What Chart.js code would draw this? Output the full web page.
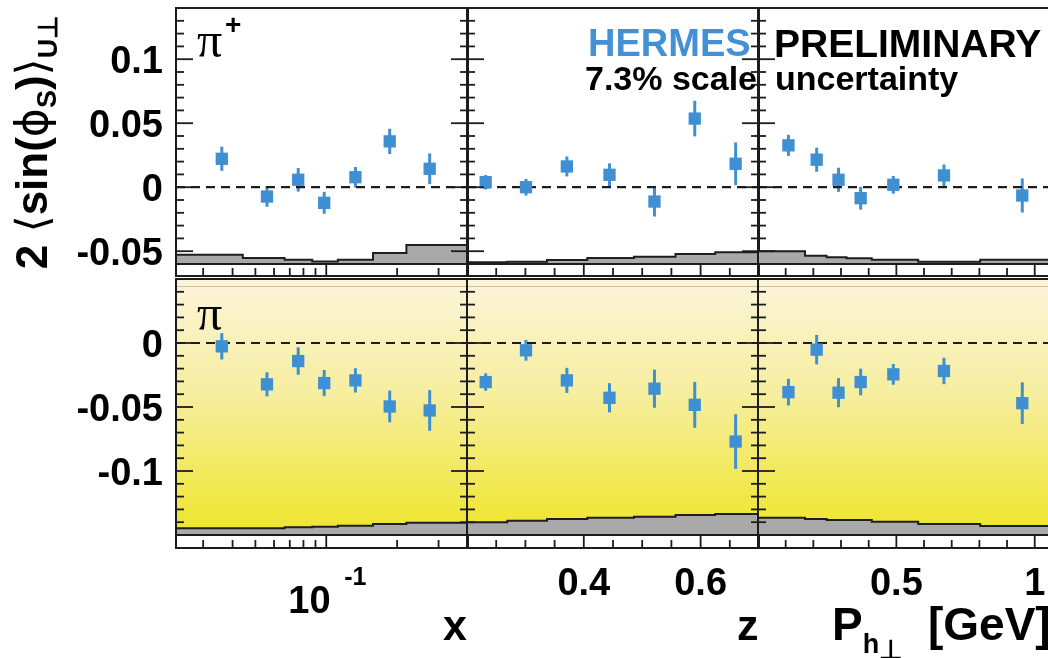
<!DOCTYPE html>
<html>
<head>
<meta charset="utf-8">
<title>HERMES sin(phi_S) amplitudes</title>
<script src="https://cdn.jsdelivr.net/npm/chart.js@4.4.1/dist/chart.umd.min.js"></script>
<style>
  html, body { margin: 0; padding: 0; background: #fff; }
  body { width: 1048px; height: 658px; overflow: hidden; position: relative; font-family: "Liberation Sans", Arial, sans-serif; }
  canvas { position: absolute; }
  .t { position: absolute; white-space: nowrap; font-weight: bold; line-height: 1; color: #000; }
  .sym { font-family: "DejaVu Sans", sans-serif; font-weight: normal; }
</style>
</head>
<body>
<div id="charts"></div>

<div class="t" id="yTitle" style="left:-118px; top:120px; width:300px; text-align:center; font-size:44px; transform:rotate(-90deg);">2 <span class="sym">&#10216;</span>sin(<span class="sym">&#981;</span><span style="font-size:27px; position:relative; top:9px;">S</span>)<span class="sym">&#10217;</span><span style="font-size:27px; position:relative; top:10px;">U&#8869;</span></div>

<div class="t" style="left:197px; top:15px; font-family:'Liberation Serif', serif; font-weight:normal; font-size:50px;">&pi;</div>
<div class="t" style="left:225px; top:11px; font-size:28px;">+</div>
<div class="t" style="left:197px; top:288px; font-family:'Liberation Serif', serif; font-weight:normal; font-size:50px;">&pi;</div>

<div class="t" style="left:588px; top:24px; font-size:38px; color:#4390d5;">HERMES</div>
<div class="t" style="left:585px; top:61px; font-size:34px;">7.3% scale</div>
<div class="t" style="left:774px; top:24px; font-size:39px;">PRELIMINARY</div>
<div class="t" style="left:775px; top:61px; font-size:34px;">uncertainty</div>

<div class="t" style="left:443px; top:604px; font-size:43px;">x</div>
<div class="t" style="left:737px; top:604px; font-size:43px;">z</div>
<div class="t" style="left:832px; top:601px; font-size:46px;">P<span style="font-size:27px; position:relative; top:13px; margin-right:12px;">h<span style="position:relative; top:6px;">&#8869;</span></span> [GeV]</div>

<script>
// bin mean values (x log, z and Ph linear)
const xMean = [0.036, 0.056, 0.076, 0.098, 0.133, 0.186, 0.275];
const zMean = [0.232, 0.301, 0.371, 0.444, 0.521, 0.590, 0.660];
const phMean = [0.110, 0.212, 0.291, 0.371, 0.489, 0.672, 0.955];

// bin edges of the systematic band histograms
const xEdges = [0.023, 0.0442, 0.0665, 0.0872, 0.112, 0.158, 0.219, 0.4];
const zEdges = [0.2, 0.269, 0.337, 0.406, 0.486, 0.557, 0.625, 0.7];
const phEdges = [0, 0.17, 0.248, 0.32, 0.411, 0.579, 0.803, 1.12];

// pi+ amplitudes
const piPlusX = [0.0222, -0.0073, 0.0058, -0.0122, 0.0078, 0.0358, 0.0144];
const piPlusXErr = [0.0094, 0.0080, 0.0092, 0.0086, 0.0080, 0.0099, 0.0120];
const piPlusXSys = [0.0073, 0.0047, 0.0034, 0.0020, 0.0034, 0.0086, 0.0148];
const piPlusZ = [0.0039, 0.0000, 0.0162, 0.0097, -0.0112, 0.0536, 0.0183];
const piPlusZErr = [0.0056, 0.0065, 0.0078, 0.0089, 0.0117, 0.0139, 0.0167];
const piPlusZSys = [0.0013, 0.0018, 0.0031, 0.0047, 0.0057, 0.0078, 0.0091];
const piPlusPh = [0.0327, 0.0215, 0.0058, -0.0086, 0.0019, 0.0092, -0.0065];
const piPlusPhErr = [0.0082, 0.0094, 0.0094, 0.0089, 0.0069, 0.0085, 0.0133];
const piPlusPhSys = [0.0099, 0.0065, 0.0052, 0.0044, 0.0034, 0.0018, 0.0034];

// pi- amplitudes
const piMinusX = [-0.0026, -0.0323, -0.0141, -0.0313, -0.0292, -0.0496, -0.0527];
const piMinusXErr = [0.0103, 0.0094, 0.0107, 0.0102, 0.0095, 0.0124, 0.0159];
const piMinusXSys = [0.0052, 0.0052, 0.0060, 0.0065, 0.0073, 0.0086, 0.0096];
const piMinusZ = [-0.0305, -0.0057, -0.0292, -0.0428, -0.0357, -0.0483, -0.0770];
const piMinusZErr = [0.0068, 0.0081, 0.0098, 0.0114, 0.0149, 0.0179, 0.0213];
const piMinusZSys = [0.0099, 0.0112, 0.0125, 0.0135, 0.0143, 0.0156, 0.0164];
const piMinusPh = [-0.0384, -0.0052, -0.0388, -0.0305, -0.0245, -0.0219, -0.0470];
const piMinusPhErr = [0.0104, 0.0115, 0.0114, 0.0104, 0.0081, 0.0103, 0.0163];
const piMinusPhSys = [0.0135, 0.0125, 0.0117, 0.0117, 0.0104, 0.0086, 0.0070];

// tick labels
const yTicksTop = [0.1, 0.05, 0, -0.05];
const yTicksBottom = [0, -0.05, -0.1];
const xLabels = [0.1];
const zLabels = [0.4, 0.6];
const phLabels = [0.5, 1];
const xMinorTicks = [0.03, 0.04, 0.05, 0.06, 0.07, 0.08, 0.09, 0.2, 0.3];
const zMinorTicks = [0.25, 0.3, 0.35, 0.45, 0.5, 0.55, 0.65];
const phMinorTicks = [0.1, 0.2, 0.3, 0.4, 0.6, 0.7, 0.8, 0.9, 1.1];

const BLUE = '#3f8fd3';
const FONT = '"Liberation Sans", Arial, sans-serif';

function fmt(v) {
  return String(Math.round(v * 1000) / 1000);
}

// frame, ticks, error bars, background
const deco = {
  id: 'deco',
  beforeDraw(chart, args, o) {
    if (!o.yellow) return;
    const { ctx, chartArea: a } = chart;
    const g = ctx.createLinearGradient(0, a.top, 0, a.bottom);
    g.addColorStop(0, '#fcf4da');
    g.addColorStop(0.45, '#f6ee9e');
    g.addColorStop(1, '#efe52b');
    ctx.save();
    ctx.fillStyle = g;
    ctx.fillRect(a.left, a.top, a.right - a.left, a.bottom - a.top);
    ctx.strokeStyle = '#d4c392';
    ctx.lineWidth = 1;
    ctx.beginPath();
    ctx.moveTo(a.left, a.top + 7.5);
    ctx.lineTo(a.right, a.top + 7.5);
    ctx.stroke();
    ctx.restore();
  },
  beforeDatasetsDraw(chart) {
    const { ctx } = chart;
    const ys = chart.scales.y;
    chart.data.datasets.forEach((ds, i) => {
      if (!ds.errors) return;
      const meta = chart.getDatasetMeta(i);
      ctx.save();
      ctx.strokeStyle = ds.backgroundColor;
      ctx.lineWidth = 3;
      meta.data.forEach((pt, j) => {
        const v = ds.data[j].y, e = ds.errors[j];
        ctx.beginPath();
        ctx.moveTo(pt.x, ys.getPixelForValue(v + e));
        ctx.lineTo(pt.x, ys.getPixelForValue(v - e));
        ctx.stroke();
      });
      ctx.restore();
    });
  },
  afterDraw(chart, args, o) {
    const { ctx, chartArea: a } = chart;
    const xs = chart.scales.x, ys = chart.scales.y;
    const seg = (x1, y1, x2, y2) => { ctx.beginPath(); ctx.moveTo(x1, y1); ctx.lineTo(x2, y2); ctx.stroke(); };
    ctx.save();
    ctx.strokeStyle = '#1c1c1c';
    ctx.lineWidth = 1.8;
    // y ticks both sides, pointing in
    for (let k = Math.ceil(ys.min * 100 - 1e-6); k <= Math.floor(ys.max * 100 + 1e-6); k++) {
      const py = ys.getPixelForValue(k / 100);
      const len = k % 5 === 0 ? 17 : 8;
      seg(a.left, py, a.left + len, py);
      seg(a.right, py, a.right - len, py);
    }
    // x ticks live in a thin strip under the pad
    const sb = a.bottom + o.strip;
    o.minor.forEach(v => { const px = xs.getPixelForValue(v); seg(px, sb, px, sb - 8); });
    o.major.forEach(v => { const px = xs.getPixelForValue(v); seg(px, sb, px, a.bottom); });
    ctx.lineWidth = 2;
    ctx.strokeRect(a.left, a.top, a.right - a.left, a.bottom - a.top);
    ctx.strokeRect(a.left, a.bottom, a.right - a.left, o.strip);

    ctx.fillStyle = '#000';
    ctx.textBaseline = 'alphabetic';
    if (o.yLabels) {
      ctx.font = 'bold 38px ' + FONT;
      ctx.textAlign = 'right';
      o.yLabels.forEach(v => ctx.fillText(fmt(v), a.left - 13, ys.getPixelForValue(v) + 13.6));
    }
    if (o.xLabels) {
      o.xLabels.forEach(v => {
        const px = xs.getPixelForValue(v);
        if (o.pow) {
          ctx.textAlign = 'left';
          ctx.font = 'bold 38px ' + FONT;
          ctx.fillText('10', px - 38, sb + 65);
          ctx.font = 'bold 25px ' + FONT;
          ctx.fillText(String(Math.round(Math.log10(v))), px + 18, sb + 37);
        } else {
          ctx.textAlign = 'center';
          ctx.font = 'bold 38px ' + FONT;
          ctx.fillText(fmt(v), px, sb + 47);
        }
      });
    }
    ctx.restore();
  }
};

function addPanel(p) {
  const c = document.createElement('canvas');
  const w = p.area[2] - p.area[0] + p.pad.left + p.pad.right;
  const h = p.area[3] - p.area[1] + p.pad.top + p.pad.bottom;
  c.width = w;
  c.height = h;
  c.style.left = (p.area[0] - p.pad.left) + 'px';
  c.style.top = (p.area[1] - p.pad.top) + 'px';
  c.style.width = w + 'px';
  c.style.height = h + 'px';
  document.getElementById('charts').appendChild(c);

  const [xMin, xMax] = p.xRange, [yMin, yMax] = p.yRange;
  const band = p.edges.map((e, i) => ({ x: Math.min(e, xMax), y: yMin + p.sys[Math.min(i, p.sys.length - 1)] }));
  const pts = p.xs.map((x, i) => ({ x: x, y: p.vals[i] }));

  new Chart(c, {
    type: 'scatter',
    data: {
      datasets: [
        { data: pts, errors: p.errs, order: 0, backgroundColor: BLUE, pointStyle: 'rect', pointRadius: 8.7, pointBorderWidth: 0 },
        { data: [{ x: xMin, y: 0 }, { x: xMax, y: 0 }], order: 1, showLine: true, borderColor: '#1c1c1c', borderWidth: 2.2, borderDash: [9, 6], pointRadius: 0 },
        { data: band, order: 2, showLine: true, stepped: true, fill: 'start', backgroundColor: '#a9a9a9', borderColor: '#1e1e1e', borderWidth: 2, pointRadius: 0 }
      ]
    },
    options: {
      responsive: false,
      animation: false,
      devicePixelRatio: 1,
      events: [],
      layout: { padding: p.pad, autoPadding: false },
      scales: {
        x: { type: p.log ? 'logarithmic' : 'linear', min: xMin, max: xMax, display: false },
        y: { type: 'linear', min: yMin, max: yMax, display: false }
      },
      plugins: {
        legend: { display: false },
        tooltip: { enabled: false },
        deco: p.deco
      }
    },
    plugins: [deco]
  });
}

const cols = [
  { area: [176, 468], pad: 176, log: true, range: [0.023, 0.4], xs: xMean, edges: xEdges, minor: xMinorTicks, major: xLabels, pow: true },
  { area: [467, 759], pad: 2, log: false, range: [0.2, 0.7], xs: zMean, edges: zEdges, minor: zMinorTicks, major: zLabels, pow: false },
  { area: [758, 1066], pad: 2, log: false, range: [0, 1.113], xs: phMean, edges: phEdges, minor: phMinorTicks, major: phLabels, pow: false }
];
const rows = [
  { area: [8, 264], bottomPad: 14, strip: 12, range: [-0.06, 0.14], yellow: false, yLabels: yTicksTop,
    vals: [piPlusX, piPlusZ, piPlusPh], errs: [piPlusXErr, piPlusZErr, piPlusPhErr], sys: [piPlusXSys, piPlusZSys, piPlusPhSys] },
  { area: [279, 535], bottomPad: 123, strip: 13, range: [-0.15, 0.05], yellow: true, yLabels: yTicksBottom,
    vals: [piMinusX, piMinusZ, piMinusPh], errs: [piMinusXErr, piMinusZErr, piMinusPhErr], sys: [piMinusXSys, piMinusZSys, piMinusPhSys] }
];

rows.forEach((r, ri) => {
  cols.forEach((cl, ci) => {
    addPanel({
      area: [cl.area[0], r.area[0], cl.area[1], r.area[1]],
      pad: { left: cl.pad, right: 2, top: 2, bottom: r.bottomPad },
      log: cl.log,
      xRange: cl.range,
      yRange: r.range,
      xs: cl.xs,
      edges: cl.edges,
      vals: r.vals[ci],
      errs: r.errs[ci],
      sys: r.sys[ci],
      deco: {
        yellow: r.yellow,
        strip: r.strip,
        minor: cl.minor,
        major: cl.major,
        yLabels: ci === 0 ? r.yLabels : null,
        xLabels: ri === 1 ? cl.major : null,
        pow: cl.pow
      }
    });
  });
});
</script>
</body>
</html>
